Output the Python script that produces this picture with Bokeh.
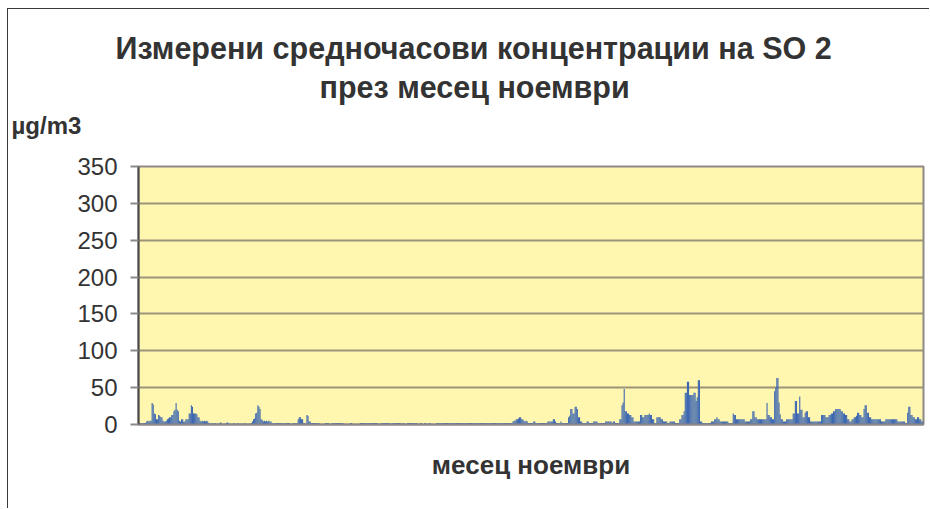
from bokeh.plotting import figure
from bokeh.models import Range1d, FixedTicker, ColumnDataSource, Title, InlineStyleSheet
from bokeh.embed import file_html
from bokeh.resources import INLINE

# Hourly SO2 concentrations (µg/m3), November, one list per day (24 h each)
day01 = [2, 2, 2, 1, 2, 2, 2, 4, 5, 4, 5, 5, 29, 27, 15, 14, 7, 7, 13, 12, 10, 10, 5, 4]
day02 = [4, 5, 7, 8, 10, 10, 13, 13, 18, 20, 29, 20, 18, 5, 4, 7, 7, 4, 4, 7, 7, 7, 15, 15]
day03 = [26, 24, 15, 15, 15, 14, 10, 10, 5, 4, 5, 4, 5, 4, 5, 4, 2, 1, 2, 1, 2, 1, 2, 1]
day04 = [1, 1, 2, 3, 1, 1, 1, 1, 2, 3, 2, 1, 1, 1, 1, 2, 1, 1, 1, 2, 1, 1, 1, 1]
day05 = [1, 2, 1, 1, 1, 1, 1, 2, 4, 7, 8, 15, 16, 26, 24, 21, 7, 6, 4, 5, 4, 5, 4, 5]
day06 = [4, 4, 2, 2, 2, 1, 2, 2, 2, 2, 2, 2, 1, 2, 2, 2, 2, 2, 2, 0, 0, 2, 2, 2]
day07 = [2, 2, 7, 10, 10, 7, 7, 2, 2, 1, 13, 12, 4, 4, 2, 2, 2, 2, 2, 2, 2, 2, 0, 0]
day08 = [0, 0, 0, 2, 2, 2, 2, 0, 0, 2, 2, 2, 2, 2, 2, 2, 2, 2, 2, 2, 0, 0, 0, 0]
day09 = [0, 0, 2, 2, 0, 0, 0, 0, 0, 0, 0, 2, 2, 2, 2, 2, 2, 2, 2, 2, 2, 2, 2, 2]
day10 = [2, 2, 2, 2, 0, 0, 2, 2, 2, 2, 2, 2, 2, 2, 2, 0, 2, 2, 2, 2, 2, 2, 2, 2]
day11 = [2, 0, 2, 2, 0, 0, 2, 2, 2, 2, 2, 2, 2, 2, 2, 2, 0, 0, 2, 2, 0, 0, 2, 2]
day12 = [0, 0, 2, 2, 0, 0, 0, 0, 0, 2, 2, 2, 2, 2, 2, 2, 2, 2, 2, 2, 2, 2, 2, 2]
day13 = [2, 2, 2, 2, 2, 2, 2, 2, 2, 2, 2, 2, 2, 2, 2, 2, 2, 2, 2, 2, 2, 2, 2, 2]
day14 = [2, 2, 2, 2, 2, 2, 2, 2, 2, 2, 2, 2, 2, 2, 2, 2, 2, 2, 2, 2, 2, 2, 2, 2]
day15 = [2, 2, 2, 2, 2, 2, 2, 4, 5, 5, 7, 7, 8, 10, 10, 7, 7, 5, 4, 5, 4, 2, 2, 2]
day16 = [2, 2, 4, 4, 2, 2, 2, 2, 2, 2, 2, 2, 2, 2, 2, 4, 4, 4, 4, 4, 7, 7, 4, 2]
day17 = [2, 2, 2, 4, 2, 2, 2, 2, 2, 2, 10, 12, 21, 21, 15, 15, 24, 24, 21, 10, 10, 4, 4, 2]
day18 = [2, 2, 2, 4, 4, 2, 2, 2, 2, 4, 4, 4, 4, 2, 2, 2, 2, 2, 2, 2, 4, 4, 4, 4]
day19 = [4, 4, 2, 4, 4, 2, 2, 2, 2, 7, 7, 26, 30, 48, 18, 18, 15, 15, 13, 13, 10, 10, 4, 4]
day20 = [4, 4, 4, 4, 13, 13, 10, 10, 13, 13, 13, 13, 15, 13, 13, 7, 7, 2, 2, 10, 10, 10, 10, 7]
day21 = [7, 4, 4, 4, 4, 2, 2, 4, 4, 4, 4, 4, 2, 2, 2, 2, 7, 7, 13, 13, 18, 43, 43, 58]
day22 = [58, 40, 40, 40, 40, 43, 43, 32, 37, 60, 60, 4, 4, 2, 2, 2, 2, 2, 2, 2, 2, 4, 4, 4]
day23 = [7, 7, 10, 7, 7, 4, 4, 4, 4, 4, 4, 4, 4, 2, 2, 2, 2, 15, 13, 13, 7, 7, 7, 7]
day24 = [7, 7, 7, 7, 4, 4, 4, 4, 4, 7, 7, 18, 18, 10, 10, 7, 7, 7, 7, 7, 7, 7, 7, 7]
day25 = [29, 13, 13, 10, 10, 7, 7, 45, 50, 63, 63, 30, 14, 7, 7, 4, 4, 4, 7, 7, 7, 7, 7, 7]
day26 = [15, 15, 32, 32, 15, 15, 38, 20, 20, 10, 10, 16, 18, 18, 10, 10, 4, 4, 4, 4, 4, 4, 4, 4]
day27 = [4, 4, 13, 13, 13, 13, 10, 10, 10, 13, 13, 15, 15, 18, 18, 21, 21, 21, 21, 21, 18, 18, 15, 15]
day28 = [13, 13, 7, 7, 4, 4, 7, 7, 10, 10, 12, 16, 16, 13, 13, 10, 10, 21, 26, 26, 16, 16, 10, 10]
day29 = [7, 7, 7, 7, 7, 7, 7, 7, 7, 4, 4, 4, 4, 7, 7, 7, 7, 7, 7, 7, 7, 7, 7, 7]
day30 = [4, 4, 4, 4, 4, 4, 4, 2, 2, 16, 24, 24, 13, 13, 10, 10, 7, 7, 10, 10, 7, 7, 4, 4]

days = [day01, day02, day03, day04, day05, day06, day07, day08, day09, day10,
        day11, day12, day13, day14, day15, day16, day17, day18, day19, day20,
        day21, day22, day23, day24, day25, day26, day27, day28, day29, day30]

y_ticks = [0, 50, 100, 150, 200, 250, 300, 350]
title_line1 = "Измерени средночасови концентрации на SO 2"
title_line2 = "през месец ноември"
y_unit = "µg/m3"
x_title = "месец ноември"

values = [v for d in days for v in d]
hours = list(range(len(values)))
src = ColumnDataSource(data=dict(hour=hours, value=values))

FONT = "Liberation Sans"
TXT = "#333333"

p = figure(width=922, height=500, output_backend="svg", toolbar_location=None,
           x_range=Range1d(-0.5, len(values) - 0.5), y_range=Range1d(0, 350),
           min_border_left=130, min_border_right=7, min_border_top=157,
           min_border_bottom=85)
p.margin = (8, 0, 0, 7)
p.stylesheets = [InlineStyleSheet(css=":host { border-left: 1px solid #3a3a3a; border-top: 1px solid #3a3a3a; }")]

p.background_fill_color = "#FFF6AF"
p.border_fill_color = "white"
p.outline_line_color = "#8f8888"
p.outline_line_width = 2

p.vbar(x="hour", top="value", width=1.0, bottom=0, source=src,
       fill_color="#3D67B1", line_color=None)

p.xgrid.visible = False
xax = p.xaxis[0]
xax.ticker = FixedTicker(ticks=[])
xax.axis_line_color = "#8f8888"
xax.axis_line_width = 2
xax.major_tick_line_color = None
xax.minor_tick_line_color = None
xax.axis_label = x_title
xax.axis_label_text_font = FONT
xax.axis_label_text_font_size = "26px"
xax.axis_label_text_font_style = "bold"
xax.axis_label_text_color = TXT
xax.axis_label_standoff = 25

yax = p.yaxis[0]
yax.ticker = FixedTicker(ticks=y_ticks)
yax.axis_line_color = "#4a4a4a"
yax.axis_line_width = 2
yax.major_tick_out = 8
yax.major_tick_in = 0
yax.major_tick_line_color = "#8a8a8a"
yax.major_tick_line_width = 2
yax.minor_tick_line_color = None
yax.major_label_standoff = 13
yax.major_label_text_font = FONT
yax.major_label_text_font_size = "24px"
yax.major_label_text_color = TXT

p.ygrid.ticker = FixedTicker(ticks=y_ticks[1:-1])
p.ygrid.grid_line_color = "#9b9478"
p.ygrid.grid_line_width = 2

# titles stacked above the frame (first added is nearest to the frame)
p.add_layout(Title(text=y_unit, align="left", offset=-127, standoff=56,
                   text_font=FONT, text_font_size="24px", text_font_style="bold",
                   text_color=TXT), "above")
p.add_layout(Title(text=title_line2, align="left", offset=181, standoff=-44,
                   text_font=FONT, text_font_size="30.5px", text_font_style="bold",
                   text_color=TXT), "above")
p.add_layout(Title(text=title_line1, align="left", offset=-23, standoff=34,
                   text_font=FONT, text_font_size="30.5px", text_font_style="bold",
                   text_color=TXT), "above")

open("out.html", "w").write(file_html(p, INLINE))
